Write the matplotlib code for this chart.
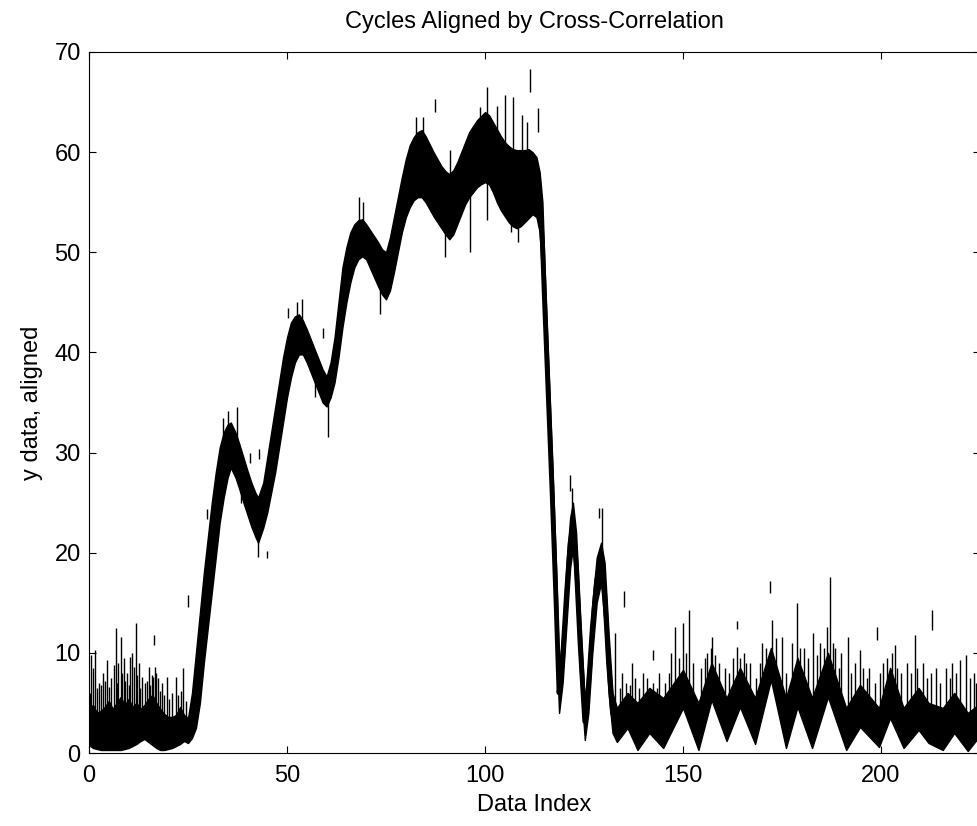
import numpy as np
import matplotlib.pyplot as plt

# bundle of aligned cycles: index, lower edge, upper edge of the dense band
idx = [0, 1, 2, 3, 4, 5, 6, 7, 8, 9, 10, 11, 12, 13, 14, 15, 16, 17, 18, 19, 20, 21, 22, 23, 24,
       25, 26, 27, 28, 29, 30, 31, 32, 33, 34, 35, 35.8, 37, 38, 39, 40, 41, 42, 42.7, 44,
       45, 46, 47, 48, 49, 50, 51, 52, 53, 54, 55, 56, 57, 58, 59, 60, 61, 62, 63, 64, 65,
       66, 67, 68, 69, 70, 71, 72, 73, 74, 75, 76, 77, 78, 79, 80, 81, 82, 83, 84, 85, 86,
       87, 88, 89, 90, 91, 92, 93, 94, 95, 96, 97, 98, 99, 100, 101, 102, 103, 104, 105,
       106, 107, 108, 109, 110, 111, 112, 113, 113.8, 114.5, 115, 116, 117, 118, 118.7,
       119.6, 120.6, 121.5, 122.2, 123, 124, 125.2, 126.1, 127.1, 128.2, 129.3, 130.2,
       131.2, 132.2, 133.3, 136, 138.5, 141.5, 145, 150, 153.9, 157.2, 161, 164.4, 168.2,
       172.2, 176, 178.9, 182.6, 186.6, 191.2, 194.7, 199.5, 202.3, 205.7, 209.5, 212,
       215.6, 218.5, 221.9, 224.5, 226]
lower = [0.8, 0.5, 0.4, 0.3, 0.3, 0.3, 0.3, 0.3, 0.3, 0.4, 0.5, 0.7, 0.9, 1.2, 1.4, 1.1, 0.8, 0.5, 0.3, 0.3, 0.4, 0.5, 0.7, 0.9, 1.2,
         1.0, 1.5, 2.5, 5, 9, 12.5, 16, 19.5, 23, 25.5, 27.5, 28.5, 27.5, 26.3, 25, 23.8, 22.6, 21.6, 21, 22.5,
         24, 26, 28, 30.5, 33, 35.5, 37.5, 39, 39.8, 39.8, 39, 38, 37, 36, 35, 34.6, 35.5, 37, 39.5, 42.5, 45,
         47, 48.5, 49.3, 49.6, 49.3, 48.4, 47.5, 46.6, 45.8, 45.3, 46.2, 48, 50, 52, 53.5, 54.5, 55.2, 55.5, 55.5, 55, 54.3,
         53.6, 53, 52.4, 51.8, 51.3, 51.8, 52.8, 53.8, 54.8, 55.5, 56, 56.5, 56.8, 57, 56.8, 56, 55, 54.2, 53.6,
         53, 52.6, 52.4, 52.6, 53, 53.4, 53.8, 53.5, 52, 47, 42, 32, 22, 11, 4,
         7, 13, 18.5, 20.5, 16, 8, 1.3, 4, 10, 15, 17, 13,
         6, 2, 1.1, 2.5, 0.3, 2, 0.5, 4.5, 0.3, 5.3, 1.2, 4.6, 0.9,
         7.3, 0.5, 4.6, 0.5, 5.6, 0.3, 2.6, 0.6, 3.5, 0.5, 2.3, 1,
         0.3, 2, 0.2, 1.5, 1.5]
upper = [4.5, 4.8, 4.0, 4.2, 4.6, 5.2, 4.4, 5.0, 5.6, 4.8, 5.4, 4.6, 5.0, 4.4, 4.8, 5.4, 5.8, 5.0, 4.4, 3.9, 3.6, 3.6, 3.8, 4.6, 3.8,
         3.5, 6, 10, 14, 18, 21.5, 25, 28, 30.5, 32, 32.8, 33, 32, 30.8, 29.5, 28.2, 27, 26, 25.5, 27,
         29.5, 32, 34.5, 37, 39.5, 41.5, 43, 43.6, 43.8, 43.2, 42.3, 41.3, 40.3, 39.3, 38.3, 37.6, 39, 41.5, 45, 48.5, 50.5,
         52, 52.8, 53.2, 53.3, 52.8, 52.2, 51.6, 51, 50.3, 50, 51.5, 53.5, 55.5, 57.5, 59.3, 60.7, 61.5, 62, 62.2, 61.6, 60.8,
         60, 59.3, 58.6, 58.1, 57.8, 58.2, 59, 60, 61, 62, 62.6, 63.2, 63.6, 64, 63.7, 63, 62.3, 61.6, 61,
         60.6, 60.3, 60.2, 60.2, 60.2, 60.3, 60, 59.5, 58, 55, 49, 39, 29, 18, 8,
         12, 19, 23.5, 25, 22, 14, 5, 9, 15, 19.5, 21, 19,
         12, 6, 4.5, 6, 5, 6.5, 5.5, 8.3, 5, 9, 5.5, 8.5, 5.5,
         10.5, 5.5, 9.5, 5.5, 10, 4.5, 6.8, 4.5, 8.5, 4.5, 6.5, 5,
         4.5, 6, 4, 4.8, 4.5]

# single cycles sticking out above the band: index, peak value
spike_x = [0.6, 1.5, 2.6, 3.5, 4.5, 5.6, 6.8, 7.4, 8.0, 8.8, 9.6, 10.4, 10.9, 11.9, 12.6, 13.3,
           14.2, 15.2, 15.8, 16.7, 17.4, 18.4, 19.6, 21.0, 22.0, 23.8,
           0.2, 1.0, 2.0, 3.0, 4.0, 5.0, 6.2, 7.0, 8.4, 9.2, 10.0, 11.4, 12.2, 13.0, 14.6,
           15.5, 16.2, 17.0, 18.0, 19.0, 20.2, 22.6, 23.2, 24.5,
           33.8, 35.2, 37.3, 52.5, 53.8, 68.2, 69.3, 82.5, 84.3, 91.2, 98.7, 100.5, 103, 105,
           107, 109.3, 110.5, 122, 129.6, 132.8,
           134.5, 137, 140, 144, 147, 148, 150, 151.5, 154.5, 156, 157.3, 159, 160.5, 163.6,
           165.5, 167, 170, 172.5, 175, 177.5, 178.8, 180.5, 182.8, 184.5, 186.3, 187, 188.5,
           190, 191.7, 193.5, 194.7, 197, 200.5, 203.5, 205, 206.5, 208.6, 210.5, 214, 216.5,
           218, 220, 221.5, 223.5,
           134, 135.5, 136.5, 138, 139, 141, 142.5, 143.5, 145.5, 146.5, 149, 150.8, 152.5,
           155.5, 157, 158.2, 161.5, 162.5, 164.5, 166, 168.5, 169.5, 171, 173.5, 176, 179.5,
           181.5, 183.8, 185.5, 187.8, 189.5, 192.5, 195.5, 196.5, 198.5, 199.8, 201.5, 202.8,
           204, 207.5, 209, 211.5, 212.5, 215, 217.5, 219, 222.5, 224]
spike_top = [9.8, 10.3, 7.0, 8.0, 9.3, 7.5, 12.5, 9.0, 11.6, 9.5, 8.0, 9.6, 10.0, 13.0, 9.0, 7.6,
             7.0, 8.6, 7.8, 8.6, 7.5, 7.0, 7.6, 6.0, 7.6, 8.5,
             6.0, 8.5, 6.5, 6.8, 7.2, 6.6, 8.8, 7.0, 8.0, 7.2, 6.8, 8.6, 7.8, 6.5, 7.2,
             6.8, 7.6, 8.0, 6.2, 5.8, 5.4, 5.8, 6.2, 5.2,
             33.5, 34.2, 34.6, 45, 45.3, 55.5, 55, 63.5, 63.5, 60.2, 64.5, 66.5, 64.6, 65.7,
             65.5, 63.7, 63, 26.5, 24.5, 12,
             8, 9, 8, 8, 10, 12.6, 13, 14.3, 8.5, 10, 11.6, 9, 8.5, 10.6,
             10, 9, 11, 13.3, 11.6, 11, 15, 10.5, 12, 11, 12.6, 17.6, 10.5,
             10, 11.6, 9, 10.3, 8.5, 9, 10.8, 8, 9, 11.8, 9, 8.5, 8.5,
             9, 9.3, 9.8, 8,
             6.5, 7, 6.8, 7.5, 6.5, 7.5, 7, 6.5, 7, 8, 9.5, 10, 9,
             9.5, 10.5, 9.8, 8, 9.5, 9.5, 9, 7.5, 9, 10.5, 11.5, 8, 10.5,
             9.5, 9.8, 10.5, 11, 8.5, 8, 8.5, 7.5, 7, 8, 9.5, 10,
             8.5, 8, 8.5, 7.5, 8, 7, 7.5, 8, 7.5, 7]

# cycles dipping below the band: index, lowest value
dip_x = [38.5, 42.7, 57, 60.3, 73.5, 90, 96.2, 100.5, 106.6, 108.3]
dip_bottom = [25, 19.6, 35.5, 31.6, 43.8, 49.5, 50, 53.2, 52, 51]

# loose fragments: index, from, to
stray_x = [16.5, 25.0, 29.8, 40.7, 43.0, 44.9, 50.3, 59.0, 87.4, 111.4, 113.4, 121.4,
           128.8, 135.0, 142.4, 163.6, 172.0, 199.0, 212.9]
stray_lo = [10.8, 14.6, 23.4, 29.0, 29.4, 19.5, 43.4, 41.4, 64.0, 66.0, 62.0, 26.2,
            23.5, 14.6, 9.3, 12.4, 16.0, 11.3, 12.3]
stray_hi = [11.8, 15.8, 24.4, 30.0, 30.4, 20.2, 44.4, 42.4, 65.3, 68.3, 64.4, 27.8,
            24.5, 16.2, 10.3, 13.2, 17.2, 12.6, 14.3]

plt.rcParams['font.family'] = ['Liberation Sans', 'DejaVu Sans']
plt.rcParams['font.size'] = 17

fig = plt.figure(figsize=(9.78, 8.26), dpi=100)
ax = fig.add_axes([89 / 978, 73 / 826, 891 / 978, 701 / 826])

x = np.array(idx)
lo = np.array(lower)
hi = np.array(upper)
ax.fill_between(x, lo, hi, color='black', lw=1.0)
ax.plot(x, (lo + hi) / 2, color='black', lw=3.5, solid_capstyle='butt')

base = np.interp(spike_x, x, hi)
ax.vlines(spike_x, base - 0.5, spike_top, color='black', lw=1.0)
base = np.interp(dip_x, x, lo)
ax.vlines(dip_x, dip_bottom, base + 0.5, color='black', lw=1.0)
ax.vlines(stray_x, stray_lo, stray_hi, color='black', lw=1.0)

ax.set_xlim(0, 225)
ax.set_ylim(0, 70)
ax.set_xticks([0, 50, 100, 150, 200])
ax.set_yticks(range(0, 71, 10))
ax.tick_params(direction='in', length=5, width=0.8, top=True, right=True, labelsize=17)
ax.tick_params(axis='x', pad=9)
ax.tick_params(axis='y', pad=6)
for s in ax.spines.values():
    s.set_linewidth(0.8)

ax.set_title('Cycles Aligned by Cross-Correlation', fontsize=17, pad=17)
ax.set_xlabel('Data Index', fontsize=17, labelpad=5)
ax.set_ylabel('y data, aligned', fontsize=17, labelpad=8)

fig.savefig('out.png', dpi=100)
